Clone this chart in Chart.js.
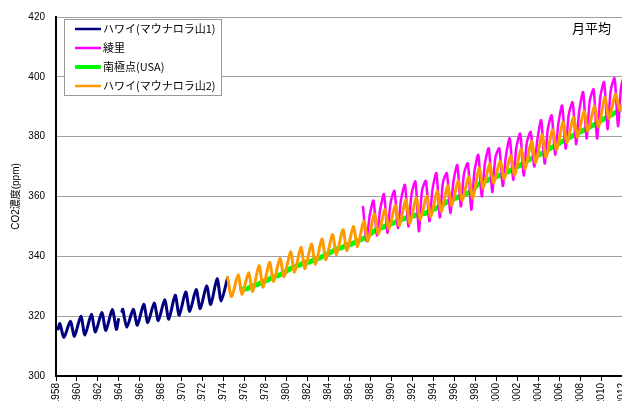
<!DOCTYPE html>
<html>
<head>
<meta charset="utf-8">
<script src="https://cdn.jsdelivr.net/npm/chart.js@4"></script>
<style>
  html, body { margin: 0; padding: 0; background: #fff; overflow: hidden; }
  #wrap { width: 660px; height: 430px; }
</style>
</head>
<body>
<div id="wrap"><canvas id="chart" width="660" height="430"></canvas></div>
<script>
// tick labels
const yearTicks = [1958, 1960, 1962, 1964, 1966, 1968, 1970, 1972, 1974, 1976, 1978, 1980, 1982, 1984,
  1986, 1988, 1990, 1992, 1994, 1996, 1998, 2000, 2002, 2004, 2006, 2008, 2010, 2012];
const ppmTicks = [300, 320, 340, 360, 380, 400, 420];

// Mauna Loa: May peak / autumn trough per year (ppm)
const mloYears = [1958, 1959, 1960, 1961, 1962, 1963, 1964, 1965, 1966, 1967, 1968, 1969, 1970, 1971,
  1972, 1973, 1974, 1975, 1976, 1977, 1978, 1979, 1980, 1981, 1982, 1983, 1984, 1985, 1986, 1987,
  1988, 1989, 1990, 1991, 1992, 1993, 1994, 1995, 1996, 1997, 1998, 1999, 2000, 2001, 2002, 2003,
  2004, 2005, 2006, 2007, 2008, 2009, 2010, 2011];
const mloPeak = [317.5, 318.3, 320.0, 320.6, 321.2, 322.2, 322.3, 322.3, 324.0, 324.4,
  325.5, 327.0, 328.1, 328.9, 330.1, 332.5, 332.9, 333.8, 334.5, 336.9,
  338.0, 339.3, 341.5, 343.0, 344.1, 345.8, 347.3, 348.9, 350.0, 351.8,
  354.2, 355.6, 357.0, 359.0, 359.6, 360.2, 361.8, 363.6, 365.2, 366.6,
  369.5, 370.9, 371.8, 373.6, 375.9, 378.5, 380.6, 382.3, 384.9, 386.5,
  388.5, 390.2, 393.2, 394.2];
const mloTrough = [312.9, 313.3, 313.7, 314.7, 315.2, 315.6, 316.3, 317.0, 317.8, 318.5,
  319.0, 320.3, 321.6, 322.5, 323.9, 325.1, 326.5, 327.3, 328.3, 329.7,
  331.6, 333.2, 334.7, 335.9, 337.4, 338.9, 340.6, 341.9, 343.3, 345.1,
  347.4, 349.2, 350.3, 350.9, 352.3, 353.2, 355.0, 357.0, 358.7, 359.4,
  362.8, 364.5, 365.9, 367.1, 369.3, 371.3, 373.1, 375.6, 378.0, 379.8,
  381.9, 383.3, 386.0, 388.9];
// extra readings: first month, the 1964 gap, and the last month
const mlo1Extra = [[1958.2, 315.7], [1963.96, 318.9], [1964.12, null], [1964.29, 321.6]];
const mlo2Extra = [[2011.9, 390.2]];

// Ryori: April peak / August trough / December per year
const ryoriYears = [1987, 1988, 1989, 1990, 1991, 1992, 1993, 1994, 1995, 1996, 1997, 1998, 1999,
  2000, 2001, 2002, 2003, 2004, 2005, 2006, 2007, 2008, 2009, 2010, 2011];
const ryoriPeak = [356.5, 358.6, 360.8, 361.9, 363.9, 365.0, 365.2, 367.8, 367.8, 370.5, 371.1, 373.9, 376.1,
  376.1, 379.4, 381.0, 381.6, 385.5, 387.1, 390.4, 391.5, 394.9, 395.8, 398.2, 399.5];
const ryoriTrough = [345.1, 347.0, 347.9, 349.5, 350.0, 348.4, 351.7, 353.0, 354.5, 356.7, 355.6, 360.0, 361.5,
  363.5, 365.6, 367.0, 370.0, 371.0, 374.0, 376.0, 377.5, 379.4, 379.4, 382.5, 383.5];
const ryoriDec = [353.5, 355.5, 357.8, 359.0, 360.8, 362.0, 362.3, 364.8, 365.0, 367.5, 368.3, 371.0, 373.0,
  373.4, 376.4, 378.0, 378.8, 382.5, 384.2, 387.4, 388.6, 391.9, 393.0, 395.3, 396.8];
const ryoriExtra = [[2012.29, 401.5]];

// South Pole: late-summer low / spring high per year
const spoYears = [1975, 1976, 1977, 1978, 1979, 1980, 1981, 1982, 1983, 1984, 1985, 1986, 1987, 1988,
  1989, 1990, 1991, 1992, 1993, 1994, 1995, 1996, 1997, 1998, 1999, 2000, 2001, 2002, 2003, 2004,
  2005, 2006, 2007, 2008, 2009, 2010, 2011];
const spoLow = [null, 329.1, 330.5, 332.1, 333.5, 335.5, 337.0, 338.1, 339.5, 341.3, 342.8, 344.1, 345.7, 348.1,
  349.7, 351.1, 352.5, 353.5, 354.3, 355.9, 357.9, 359.5, 361.0, 363.8, 365.4, 366.8, 368.4, 370.3, 372.4, 374.1,
  376.2, 378.2, 380.1, 381.9, 383.7, 385.8, 387.7];
const spoHigh = [329.0, 330.1, 331.5, 333.1, 334.5, 336.5, 338.0, 339.1, 340.5, 342.3, 343.8, 345.1, 346.7, 349.1,
  350.7, 352.1, 353.5, 354.5, 355.3, 356.9, 358.9, 360.5, 362.0, 364.8, 366.4, 367.8, 369.4, 371.3, 373.4, 375.1,
  377.2, 379.2, 381.1, 382.9, 384.7, 386.8, 388.7];

const seriesNames = ['ハワイ(マウナロラ山1)', '綾里', '南極点(USA)', 'ハワイ(マウナロラ山2)'];
const seriesColors = ['#000080', '#ff00ff', '#00ff00', '#ff9900'];
const seriesWidths = [3, 2.5, 5, 3];

// build {x, y} points; offsets are the fraction of the year for each reading
function seasonal(years, parts) {
  const pts = [];
  years.forEach((yr, i) => {
    parts.forEach(([off, vals]) => {
      if (vals[i] != null) pts.push({ x: yr + off, y: vals[i] });
    });
  });
  return pts;
}
const toPts = arr => arr.map(([x, y]) => ({ x: x, y: y }));
const byX = (a, b) => a.x - b.x;

const mloAll = seasonal(mloYears, [[0.37, mloPeak], [0.76, mloTrough]]);
const mlo1 = mloAll.filter(p => p.x < 1974.5).concat(toPts(mlo1Extra)).sort(byX);
const mlo2 = mloAll.filter(p => p.x > 1974.3).concat(toPts(mlo2Extra)).sort(byX);
const ryori = seasonal(ryoriYears, [[0.29, ryoriPeak], [0.62, ryoriTrough], [0.92, ryoriDec]])
  .concat(toPts(ryoriExtra)).sort(byX);
const spo = seasonal(spoYears, [[0.18, spoLow], [0.72, spoHigh]]);

const seriesData = [mlo1, ryori, spo, mlo2];
const drawOrder = [2, 1, 3, 0]; // orange on top, green below

const datasets = seriesData.map((d, i) => ({
  label: seriesNames[i],
  data: d,
  borderColor: seriesColors[i],
  borderWidth: seriesWidths[i],
  pointRadius: 0,
  tension: 0.25,
  borderJoinStyle: 'round',
  borderCapStyle: 'round',
  order: drawOrder[i],
  spanGaps: false
}));

const numFont = { family: 'Liberation Sans, Arial, sans-serif', size: 10 };
const jpFont = '"Noto Sans CJK JP", sans-serif';

// boxed legend in the top-left of the plot and the "月平均" note
const boxLegend = {
  id: 'boxLegend',
  afterDraw(chart) {
    const ctx = chart.ctx;
    ctx.save();
    ctx.fillStyle = '#fff';
    ctx.fillRect(64.5, 19.5, 157, 76);
    ctx.strokeStyle = '#999';
    ctx.lineWidth = 1;
    ctx.strokeRect(64.5, 19.5, 157, 76);
    ctx.font = '11px ' + jpFont;
    ctx.textBaseline = 'middle';
    seriesNames.forEach((name, i) => {
      const y = 29 + i * 19;
      ctx.strokeStyle = seriesColors[i];
      ctx.lineWidth = i === 2 ? 4 : 2.5;
      ctx.beginPath();
      ctx.moveTo(75, y);
      ctx.lineTo(101, y);
      ctx.stroke();
      ctx.fillStyle = '#000';
      ctx.fillText(name, 103, y);
    });
    ctx.font = '13px ' + jpFont;
    ctx.textAlign = 'right';
    ctx.fillText('月平均', 611, 28);
    ctx.restore();
  }
};

new Chart(document.getElementById('chart'), {
  type: 'line',
  data: { datasets: datasets },
  options: {
    responsive: false,
    animation: false,
    devicePixelRatio: 1,
    layout: { padding: { top: 14, right: 38, left: 0, bottom: 0 } },
    plugins: { legend: { display: false }, tooltip: { enabled: false } },
    scales: {
      x: {
        type: 'linear',
        min: 1958,
        max: 2012,
        afterBuildTicks: s => { s.ticks = yearTicks.map(v => ({ value: v })); },
        afterFit: s => { s.height = 54; },
        ticks: {
          autoSkip: false,
          maxRotation: 90,
          minRotation: 90,
          padding: 2,
          color: '#000',
          font: numFont,
          callback: v => String(v)
        },
        grid: { drawOnChartArea: false, drawTicks: true, tickLength: 5, color: '#000' },
        border: { display: true, color: '#000', width: 2 }
      },
      y: {
        min: 300,
        max: 420,
        afterBuildTicks: s => { s.ticks = ppmTicks.map(v => ({ value: v })); },
        afterFit: s => { s.width = 56; },
        ticks: { padding: 11, color: '#000', font: numFont, callback: v => String(v) },
        grid: { color: '#a0a0a0', drawTicks: false, lineWidth: 1 },
        border: { display: true, color: '#000', width: 2 },
        title: {
          display: true,
          text: 'CO2濃度(ppm)',
          color: '#000',
          font: { family: 'Liberation Sans, "Noto Sans CJK JP", sans-serif', size: 10 },
          padding: { top: 10, bottom: 0 }
        }
      }
    }
  },
  plugins: [boxLegend]
});
</script>
</body>
</html>
